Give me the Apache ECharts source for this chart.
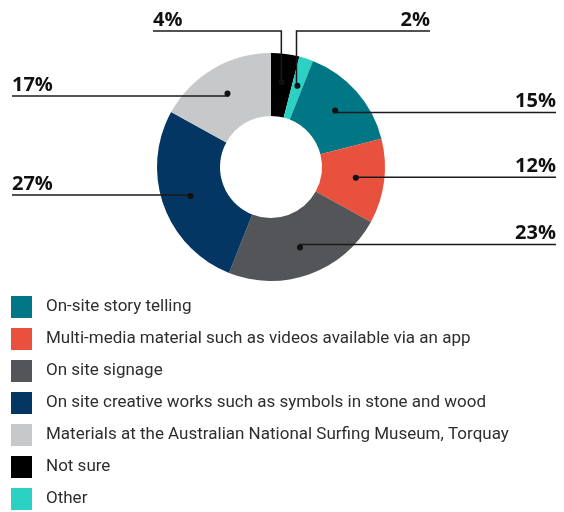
<!DOCTYPE html>
<html><head><meta charset="utf-8">
<script src="https://cdn.jsdelivr.net/npm/echarts@6/dist/echarts.min.js"></script>
<style>html,body{margin:0;padding:0;background:#fff}#c{width:564px;height:512px}</style>
</head><body><div id="c"></div>
<script>
// Data (clockwise from 12 o'clock)
const categories = [
  'Not sure',
  'Other',
  'On-site story telling',
  'Multi-media material such as videos available via an app',
  'On site signage',
  'On site creative works such as symbols in stone and wood',
  'Materials at the Australian National Surfing Museum, Torquay'
];
const values = [4, 2, 15, 12, 23, 27, 17];
const legendOrder = [
  'On-site story telling',
  'Multi-media material such as videos available via an app',
  'On site signage',
  'On site creative works such as symbols in stone and wood',
  'Materials at the Australian National Surfing Museum, Torquay',
  'Not sure',
  'Other'
];

// Styles / layout
const colors = ['#000000', '#2BD2C4', '#017786', '#E8513E', '#545559', '#033663', '#C7C8CA'];
const labelSide = ['topLeft', 'topRight', 'right', 'right', 'right', 'left', 'left'];
const CENTER = [271, 167];
const R_IN = 51, R_OUT = 114;
const RIGHT_X = 556, LEFT_X = 12, TOP_Y = 31, TOP_LEFT_X = 153, TOP_RIGHT_X = 430;

const data = categories.map((n, i) => ({ name: n, value: values[i], itemStyle: { color: colors[i] } }));
const ghost = categories.map((n, i) => ({ name: n, value: values[i] }));

const chart = echarts.init(document.getElementById('c'), null, { renderer: 'canvas' });
chart.setOption({
  animation: false,
  legend: {
    orient: 'vertical',
    left: 11,
    top: 296,
    padding: 0,
    itemWidth: 21,
    itemHeight: 22,
    itemGap: 10,
    icon: 'rect',
    selectedMode: false,
    data: legendOrder,
    textStyle: { fontFamily: 'Roboto', fontSize: 17, color: '#2e2e2e', padding: [0, 0, 0, 9] }
  },
  series: [
    {
      type: 'pie',
      z: 2,
      center: CENTER,
      radius: [R_IN, R_OUT],
      startAngle: 90,
      clockwise: true,
      silent: true,
      avoidLabelOverlap: false,
      data: data,
      label: { show: false },
      labelLine: { show: false },
      emphasis: { disabled: true }
    },
    {
      type: 'pie',
      z: 3,
      center: CENTER,
      radius: [0, (R_IN + R_OUT) / 2],
      startAngle: 90,
      clockwise: true,
      silent: true,
      avoidLabelOverlap: false,
      data: ghost,
      itemStyle: { color: 'rgba(0,0,0,0)' },
      emphasis: { disabled: true },
      label: {
        show: true,
        position: 'outside',
        formatter: '{c}%',
        fontFamily: 'Open Sans',
        fontWeight: 'bold',
        fontSize: 20,
        color: '#111'
      },
      labelLine: { show: true, length: 10, length2: 10, lineStyle: { color: '#1a1a1a', width: 1.5 } },
      labelLayout: function (params) {
        const p = params.labelLinePoints;
        if (!p) return {};
        const d = p[0];
        const side = labelSide[params.dataIndex];
        if (side === 'right') {
          return { x: RIGHT_X, y: d[1] - 1, align: 'right', verticalAlign: 'bottom',
            labelLinePoints: [d, [RIGHT_X, d[1]], [RIGHT_X, d[1]]] };
        }
        if (side === 'left') {
          return { x: LEFT_X, y: d[1] - 1, align: 'left', verticalAlign: 'bottom',
            labelLinePoints: [d, [LEFT_X, d[1]], [LEFT_X, d[1]]] };
        }
        if (side === 'topLeft') {
          return { x: TOP_LEFT_X, y: TOP_Y - 1, align: 'left', verticalAlign: 'bottom',
            labelLinePoints: [d, [d[0], TOP_Y], [TOP_LEFT_X, TOP_Y]] };
        }
        return { x: TOP_RIGHT_X, y: TOP_Y - 1, align: 'right', verticalAlign: 'bottom',
          labelLinePoints: [d, [d[0], TOP_Y], [TOP_RIGHT_X, TOP_Y]] };
      }
    },
    {
      // dots at the start of each label line
      type: 'pie',
      z: 4,
      center: CENTER,
      radius: [R_IN, R_OUT],
      startAngle: 90,
      clockwise: true,
      silent: true,
      avoidLabelOverlap: false,
      data: ghost,
      itemStyle: { color: 'rgba(0,0,0,0)' },
      emphasis: { disabled: true },
      label: {
        show: true,
        position: 'inside',
        formatter: ' ',
        backgroundColor: '#111',
        width: 6, height: 6, borderRadius: 3, padding: 0
      },
      labelLine: { show: false }
    }
  ]
});
</script></body></html>
